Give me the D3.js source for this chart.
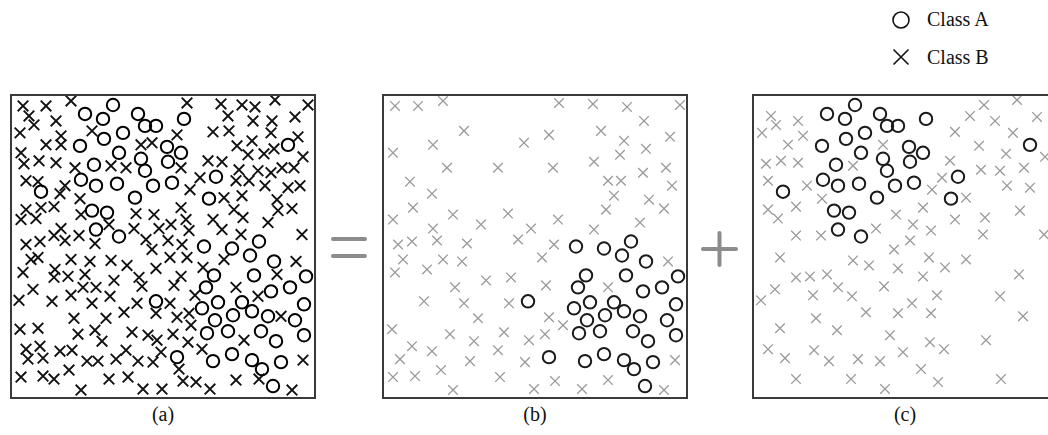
<!DOCTYPE html>
<html>
<head>
<meta charset="utf-8">
<script src="https://cdn.jsdelivr.net/npm/d3@7"></script>
<style>
  body { margin: 0; background: #fff; }
  svg { display: block; }
  text { font-family: "Liberation Serif", "DejaVu Serif", serif; fill: #111; }
</style>
</head>
<body>
<svg width="1048" height="435"></svg>
<script>
// panel (b): class A circles / class B crosses
const bA = [[145,207],[193,152],[221,154],[248,147],[239,161],[263,167],[203,181],[243,181],[295,182],
  [195,193],[260,197],[279,193],[207,208],[231,208],[293,210],[191,214],[241,217],[222,221],[257,222],
  [204,226],[284,226],[196,239],[217,237],[250,237],[293,241],[265,247],[166,263],[202,267],[221,260],
  [241,266],[270,268],[251,275],[262,292]];
const bB = [[12,11],[35,11],[60,6],[81,36],[50,50],[10,58],[141,48],[64,73],[115,73],[27,87],[49,99],
  [30,113],[10,125],[70,120],[125,119],[98,130],[50,134],[148,134],[135,145],[15,150],[29,147],[54,146],
  [84,149],[20,165],[12,178],[44,175],[60,165],[79,167],[72,193],[103,186],[128,183],[41,207],[81,209],
  [126,209],[95,224],[9,235],[67,240],[121,238],[29,252],[49,257],[91,247],[115,256],[146,246],[17,265],
  [87,267],[142,268],[10,283],[32,282],[58,276],[117,283],[70,296],[151,295],[176,8],[210,9],[244,12],
  [297,10],[261,26],[166,40],[218,36],[241,46],[287,42],[263,54],[237,60],[211,67],[170,73],[260,78],
  [283,73],[225,86],[238,86],[289,91],[231,101],[266,105],[281,114],[223,115],[175,125],[257,128],
  [211,135],[171,150],[159,163],[285,167],[163,191],[225,193],[166,223],[180,231],[162,240],[292,266],
  [172,287],[225,286],[199,295],[281,296]];

// panel (c)
const cA = [[102,10],[74,19],[92,24],[127,19],[134,31],[145,31],[112,38],[93,44],[69,51],[108,58],
  [130,64],[83,70],[134,76],[70,85],[85,91],[106,89],[142,91],[30,97],[124,103],[81,116],[96,118],
  [85,135],[108,142],[173,24],[156,52],[170,58],[157,67],[161,88],[205,82],[198,104],[277,50]];
const cB = [[18,21],[45,26],[23,30],[9,38],[50,41],[35,50],[130,50],[13,69],[28,66],[45,68],[100,71],
  [15,86],[54,91],[69,104],[43,112],[15,115],[25,124],[143,120],[43,141],[68,141],[123,134],[141,155],
  [231,10],[264,5],[217,21],[242,26],[284,22],[202,37],[260,38],[226,51],[253,59],[292,62],[197,66],
  [228,75],[247,76],[271,73],[189,83],[254,91],[277,93],[179,95],[213,103],[170,113],[160,130],[178,136],
  [202,125],[232,123],[267,116],[157,146],[230,140],[291,140],[27,163],[100,166],[116,171],[145,174],
  [43,183],[57,182],[74,180],[22,195],[8,206],[60,201],[85,193],[99,202],[131,192],[113,218],[145,219],
  [63,224],[27,234],[84,236],[137,241],[15,255],[32,264],[61,256],[76,267],[105,265],[127,267],[150,258],
  [43,285],[98,285],[132,295],[176,163],[192,173],[213,165],[170,182],[266,180],[184,201],[159,209],
  [178,219],[247,202],[270,222],[177,248],[191,255],[233,246],[168,275],[185,288],[248,285]];

const panelLabels = ['(a)', '(b)', '(c)'];
const legendLabels = ['Class A', 'Class B'];

const svg = d3.select('svg');
const panelTop = 95, pw = 304, ph = 303;

const x = d3.scaleLinear().domain([0, 304]).range([0, pw]);
const y = d3.scaleLinear().domain([0, 304]).range([0, ph]);

const crossPath = s => `M${-s},${-s}L${s},${s}M${-s},${s}L${s},${-s}`;

// (a) is the union of (b) and (c)
const panels = [
  { left: 11, A: bA.concat(cA), B: bB.concat(cB), dark: true },
  { left: 383, A: bA, B: bB, dark: false },
  { left: 753, A: cA, B: cB, dark: false }
];

panels.forEach((p, i) => {
  const g = svg.append('g').attr('transform', `translate(${p.left}, ${panelTop})`);

  g.selectAll('.cross')
    .data(p.B)
    .enter()
    .append('path')
    .attr('class', 'cross')
    .attr('transform', d => `translate(${x(d[0])}, ${y(d[1])})`)
    .attr('d', crossPath(p.dark ? 5.3 : 4.8))
    .attr('stroke', p.dark ? '#111' : '#9a9a9a')
    .attr('stroke-width', p.dark ? 1.9 : 1.3)
    .attr('fill', 'none');

  g.selectAll('.circ')
    .data(p.A)
    .enter()
    .append('circle')
    .attr('class', 'circ')
    .attr('cx', d => x(d[0]))
    .attr('cy', d => y(d[1]))
    .attr('r', 6.2)
    .attr('fill', 'none')
    .attr('stroke', p.dark ? '#000' : '#1a1a1a')
    .attr('stroke-width', 2);

  g.append('rect')
    .attr('width', pw)
    .attr('height', ph)
    .attr('fill', 'none')
    .attr('stroke', '#3a3a3a')
    .attr('stroke-width', 2);

  svg.append('text')
    .attr('x', p.left + pw / 2)
    .attr('y', 421)
    .attr('text-anchor', 'middle')
    .attr('font-size', 20)
    .text(panelLabels[i]);
});

// = and + between panels
const op = svg.append('g')
  .attr('stroke', '#8c8c8c')
  .attr('stroke-width', 4)
  .attr('stroke-linecap', 'round');
op.append('line').attr('x1', 333).attr('x2', 365).attr('y1', 239).attr('y2', 239);
op.append('line').attr('x1', 333).attr('x2', 365).attr('y1', 256).attr('y2', 256);
op.append('line').attr('x1', 703).attr('x2', 736).attr('y1', 249).attr('y2', 249);
op.append('line').attr('x1', 719.5).attr('x2', 719.5).attr('y1', 233).attr('y2', 265);

// legend
const leg = svg.append('g');
leg.append('circle')
  .attr('cx', 901).attr('cy', 20).attr('r', 8)
  .attr('fill', 'none').attr('stroke', '#111').attr('stroke-width', 1.6);
leg.append('path')
  .attr('transform', 'translate(901, 57)')
  .attr('d', crossPath(7.5))
  .attr('stroke', '#111').attr('stroke-width', 1.6).attr('fill', 'none');
leg.selectAll('.lt')
  .data(legendLabels)
  .enter()
  .append('text')
  .attr('x', 927)
  .attr('y', (d, i) => 26 + i * 38)
  .attr('font-size', 20)
  .text(d => d);
</script>
</body>
</html>
